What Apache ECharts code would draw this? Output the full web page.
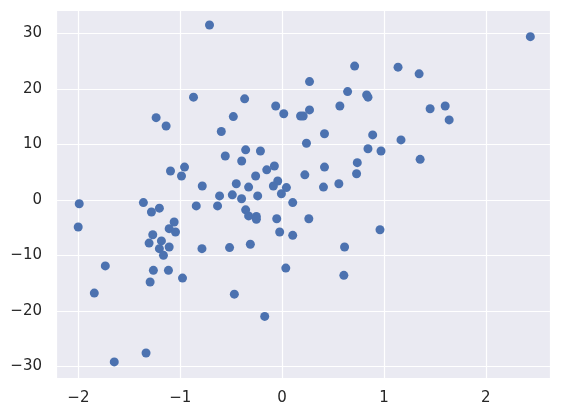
<!DOCTYPE html>
<html>
<head>
<meta charset="utf-8">
<script src="https://cdn.jsdelivr.net/npm/echarts@6/dist/echarts.min.js"></script>
<style>
  html, body { margin: 0; padding: 0; background: #fff; }
  #scatter { width: 561px; height: 417px; }
</style>
</head>
<body>
<div id="scatter"></div>
<script>
// point coordinates
const xValues = [
  -0.713, -0.870, -1.237, -1.139, 0.712, 0.269, -0.368, -0.063, 0.016, 0.181,
  0.207, 0.269, 0.643, 0.567, 0.830, 0.843, -0.479, -0.597, 0.416, 0.889,
  2.437, 1.138, 1.345, 1.453, 1.601, 1.640, 1.167, 0.971, 1.355, 0.961,
  0.239, -0.558, -0.358, -0.213, -0.397, -0.076, -0.151, -0.260, -0.043, -0.086,
  0.042, -0.007, 0.104, 0.223, 0.416, 0.406, 0.557, 0.738, 0.731, 0.843,
  -0.784, -0.450, -0.329, -0.614, -0.489, -0.398, -0.240, -0.634, -0.358, -0.329,
  -0.253, -0.253, -0.053, 0.262, -0.024, 0.104, -0.787, -0.516, -0.312, 0.613,
  -1.096, -0.958, -0.988, -1.992, -2.002, -1.362, -1.283, -1.205, -0.843, -1.060,
  -1.109, -1.047, -1.270, -1.306, -1.185, -1.205, -1.109, -1.165, -1.736, -1.264,
  -1.116, -1.296, -0.978, -1.844, -1.336, -1.648, 0.036, 0.606, -0.469, -0.171
];
const yValues = [
  31.5, 18.5, 14.8, 13.3, 24.1, 21.3, 18.2, 16.9, 15.5, 15.1,
  15.1, 16.2, 19.5, 16.9, 18.9, 18.5, 15.0, 12.3, 11.9, 11.7,
  29.4, 23.9, 22.7, 16.4, 16.9, 14.4, 10.8, 8.8, 7.3, -5.4,
  10.2, 7.9, 9.0, 8.8, 7.0, 6.1, 5.4, 4.3, 3.4, 2.5,
  2.2, 1.1, -0.5, 4.5, 5.9, 2.3, 2.9, 6.7, 4.7, 9.2,
  2.5, 2.9, 2.3, 0.7, 0.9, 0.2, 0.7, -1.1, -1.8, -2.9,
  -3.0, -3.5, -3.4, -3.4, -5.8, -6.4, -8.8, -8.6, -8.0, -8.5,
  5.2, 5.9, 4.3, -0.7, -4.9, -0.5, -2.2, -1.5, -1.1, -4.0,
  -5.2, -5.8, -6.3, -7.8, -7.4, -8.8, -8.5, -10.0, -11.9, -12.7,
  -12.7, -14.8, -14.1, -16.8, -27.6, -29.2, -12.3, -13.6, -17.0, -21.0
];
const xRange = [-2.22, 2.63];
const yRange = [-32.1, 34.2];

const chart = echarts.init(document.getElementById("scatter"));

const minusSign = v => String(v).replace("-", "\u2212");

const axisCommon = {
  type: "value",
  axisLine: { show: false },
  axisTick: { show: false },
  splitLine: { show: true, lineStyle: { color: "#ffffff", width: 1.2 } },
  axisLabel: {
    color: "#262626",
    fontSize: 15,
    fontFamily: "DejaVu Sans",
    showMinLabel: false,
    showMaxLabel: false,
    formatter: minusSign
  }
};

chart.setOption({
  animation: false,
  grid: {
    left: 56,
    right: 11,
    top: 10,
    bottom: 39,
    show: true,
    backgroundColor: "#EAEAF2",
    borderWidth: 0
  },
  xAxis: {
    ...axisCommon,
    min: xRange[0],
    max: xRange[1],
    axisLabel: { ...axisCommon.axisLabel, margin: 13 }
  },
  yAxis: {
    ...axisCommon,
    min: yRange[0],
    max: yRange[1],
    axisLabel: { ...axisCommon.axisLabel, margin: 14 }
  },
  series: [
    {
      type: "scatter",
      symbolSize: 9,
      itemStyle: { color: "#4C72B0", opacity: 1 },
      data: xValues.map((x, i) => [x, yValues[i]])
    }
  ]
});
</script>
</body>
</html>
